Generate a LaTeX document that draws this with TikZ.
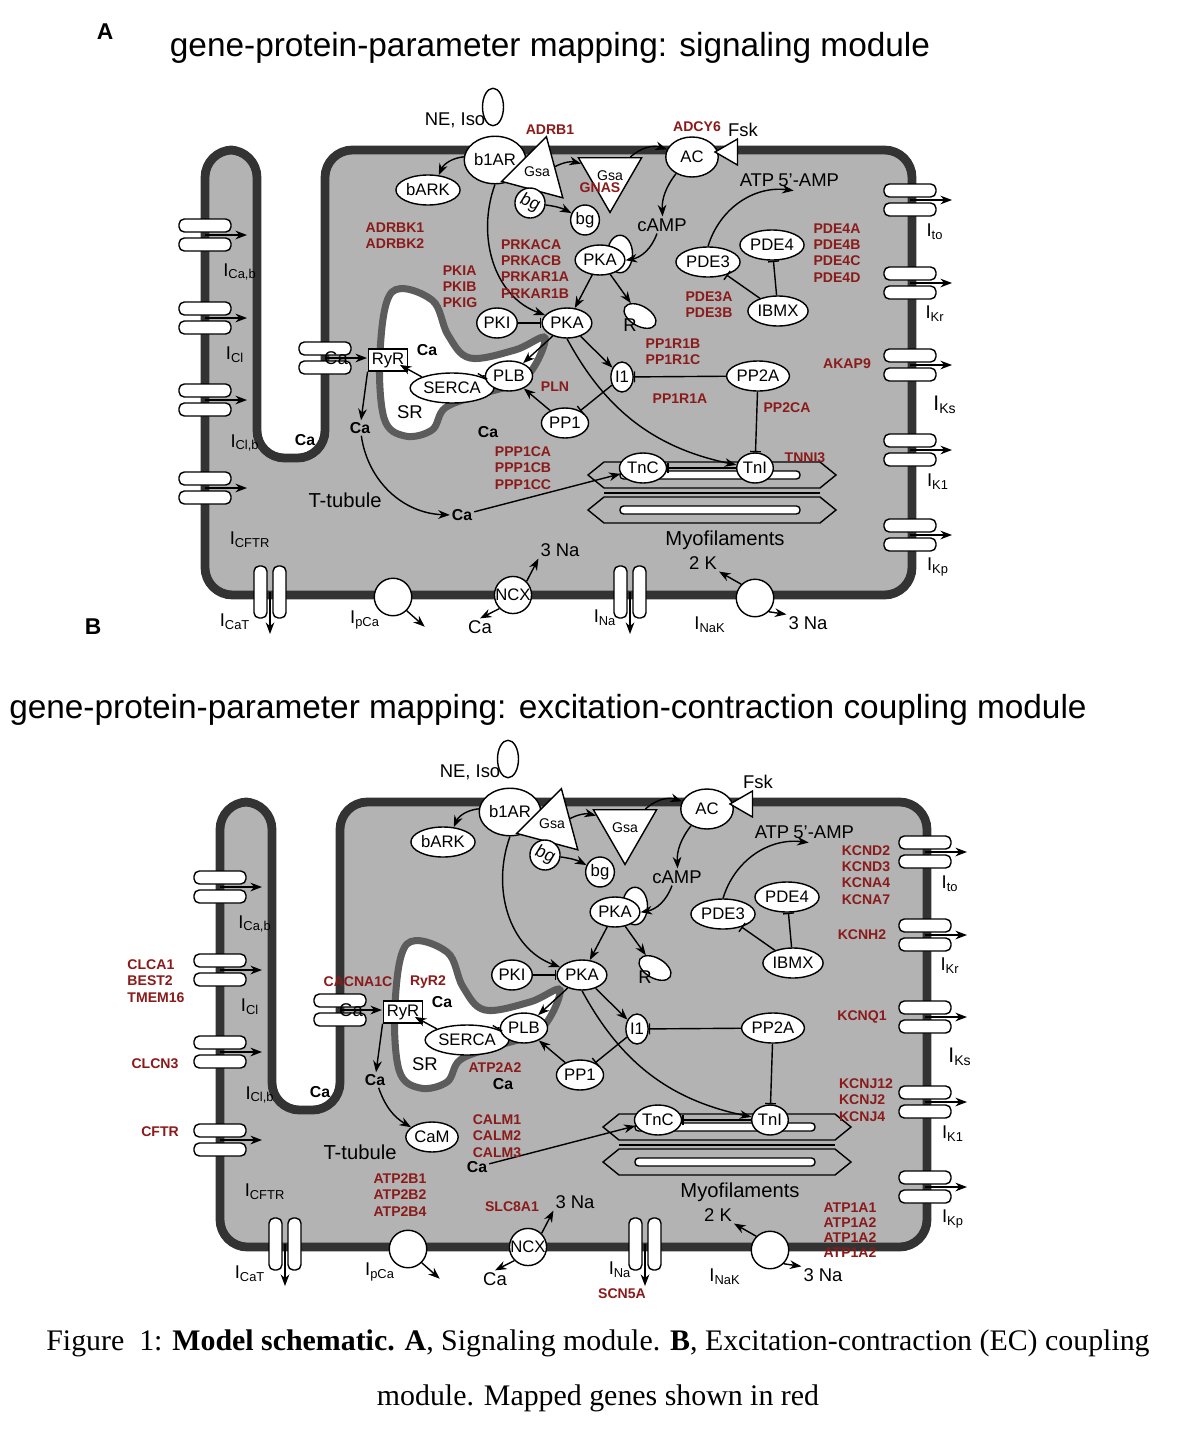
\documentclass[tikz,border=0pt]{standalone}
\usepackage{fontspec}
\setmainfont{Liberation Sans}
\newfontfamily\capfont{Liberation Serif}
\usepackage{tikz}
\usetikzlibrary{shapes,arrows.meta,positioning,calc}
\definecolor{genered}{HTML}{8B1A1A}
\definecolor{cellgray}{HTML}{B3B3B3}
\definecolor{wallgray}{HTML}{333333}

\tikzset{
  prot/.style={ellipse, draw, thick, fill=white, inner sep=0.5pt, minimum height=0.6cm, font=\fontsize{9.5}{11}\selectfont},
  tri/.style={regular polygon, regular polygon sides=3, draw, thick, fill=white, inner sep=0pt, minimum size=0.95cm, font=\fontsize{8}{9}\selectfont},
  lbl/.style={inner sep=1pt, font=\fontsize{10.5}{12}\selectfont},
  cabold/.style={inner sep=1pt, font=\bfseries\fontsize{9}{10}\selectfont},
  gene/.style={inner sep=0pt, align=center, text=genered, font=\bfseries\fontsize{8}{9.2}\selectfont},
  act/.style={-Stealth, thick},
  inh/.style={-Bar, thick},
  chan/.pic={
    \draw[thick, fill=white, rounded corners=3pt] (-26,-16) rectangle (26,-3);
    \draw[thick, fill=white, rounded corners=3pt] (-26,3) rectangle (26,16);
    \draw[-Stealth, thick] (0,0) -- (42,0);
  }
}

% common cell of both modules, #1 = prefix of node names
\newcommand\drawcell[1]{%
  % membrane with T-tubule
  \draw[line width=5pt, draw=wallgray, fill=cellgray, rounded corners=0.55cm]
    (205,595) -- (205,150) -- (257,150) -- (257,458) -- (325,458)
    -- (325,150) -- (912,150) -- (912,595) -- cycle;
  % SR
  \draw[line width=4pt, draw=wallgray!80, fill=white] plot[smooth cycle, tension=0.6]
    coordinates {(392,292) (432,300) (448,335) (470,358) (515,350) (545,338)
      (525,378) (478,395) (445,408) (432,430) (405,436) (384,418) (380,352)};
  % myofilaments
  \foreach \yy in {475,510} {
    \draw[thick, fill=cellgray] (588,\yy) -- (604,\yy-13) -- (820,\yy-13) -- (836,\yy)
      -- (820,\yy+13) -- (604,\yy+13) -- cycle;
    \draw[thick, fill=white, rounded corners=2pt] (620,\yy-4) rectangle (800,\yy+4);
  }
  \draw[thick] (604,493) -- (820,493);
  % proteins
  \node[prot, minimum width=0.42cm, minimum height=0.75cm] (#1lig) at (493,107) {};
  \node[prot, minimum width=0.95cm, minimum height=0.95cm] (#1bar) at (495,160) {b1AR};
  \node[tri, shape border rotate=-15] (#1gsa) at (537,172) {Gsa};
  \node[prot, rotate=-20, font=\itshape\fontsize{10}{11}\selectfont] (#1bg) at (530,203) {bg};
  \node[tri, shape border rotate=180] (#1gsb) at (610,176) {Gsa};
  \node[prot] (#1bgb) at (585,220) {bg};
  \node[prot, minimum width=1.05cm, minimum height=0.8cm] (#1ac) at (692,157) {AC};
  \node[regular polygon, regular polygon sides=3, draw, thick, fill=white,
    shape border rotate=90, minimum size=0.6cm, inner sep=0pt] (#1fsk) at (730,152) {};
  \node[lbl] (#1fsklbl) at (743,130) {Fsk};
  \node[prot] (#1bark) at (428,190) {bARK};
  \node[lbl] (#1atp) at (757,180) {ATP};
  \node[lbl, right=0pt of #1atp] (#1amp) {5'-AMP};
  \node[lbl] (#1camp) at (662,225) {cAMP};
  \node[prot, minimum height=0.75cm, minimum width=0.5cm] (#1rtop) at (620,254) {};
  \node[prot] (#1pka) at (600,260) {PKA};
  \node[prot] (#1pde3) at (708,262) {PDE3};
  \node[prot] (#1pde4) at (772,245) {PDE4};
  \node[prot, minimum width=1.1cm] (#1ibmx) at (778,311) {IBMX};
  \node[prot] (#1pki) at (497,323) {PKI};
  \node[prot] (#1pkb) at (567,323) {PKA};
  \node[prot, rotate=-30, minimum width=0.7cm, minimum height=0.4cm] (#1r) at (640,316) {};
  \node[lbl] (#1rlbl) at (630,325) {R};
  \node[draw, thick, fill=white, inner sep=2pt, font=\fontsize{9.5}{11}\selectfont] (#1ryr) at (388,360) {RyR};
  \node[prot] (#1serca) at (452,388) {SERCA};
  \node[prot] (#1plb) at (509,376) {PLB};
  \node[prot] (#1ione) at (622,377) {I1};
  \node[prot] (#1pptwo) at (758,376) {PP2A};
  \node[prot] (#1ppone) at (565,423) {PP1};
  \node[prot] (#1tnc) at (643,468) {TnC};
  \node[prot] (#1tni) at (755,468) {TnI};
  % text
  \node[lbl] (#1nelbl) at (455,120) {NE, Iso};
  \node[lbl, font=\fontsize{11.5}{13}\selectfont] (#1ttub) at (345,500) {T-tubule};
  \node[lbl, font=\fontsize{11.5}{13}\selectfont] (#1myo) at (725,540) {Myofilaments};
  \node[lbl] (#1sr) at (410,412) {SR};
  \node[cabold] (#1catub) at (305,440) {Ca};
  \node[cabold] (#1caryr) at (427,350) {Ca};
  \node[cabold] (#1caone) at (360,428) {Ca};
  \node[cabold] (#1casr) at (488,432) {Ca};
  \node[cabold] (#1cathree) at (462,515) {Ca};
  % connectors
  \draw[act] (#1bar) to[bend right=30] (#1bark);
  \draw[act] (#1gsa) to[bend left=20] (#1gsb);
  \draw[act] (#1bg) to[bend left=10] (#1bgb);
  \draw[act] (#1gsb) to[bend left=30] (#1ac);
  \draw[act] (#1ac) to[bend right=20] (#1camp);
  \draw[act] (#1camp) to[bend left=30] (#1pka);
  \draw[act] (#1pde3.north) to[bend left=40] ($(#1amp.south)+(-15,2)$);
  \draw[inh] (#1ibmx) -- (#1pde3);
  \draw[inh] (#1ibmx) -- (#1pde4);
  \draw[act] (#1pka) -- (#1pkb);
  \draw[act] (#1pka) -- (#1r);
  \draw[inh] (#1pki) -- (#1pkb);
  \draw[act] (#1pkb) -- (#1plb);
  \draw[act] (#1pkb) -- (#1ione);
  \draw[act] (#1pkb.south) to[bend right=25] (#1tni);
  \draw[act] (#1bar.south) to[out=-110, in=160] (#1pkb);
  \draw[inh] (#1pptwo) -- (#1ione);
  \draw[inh] (#1pptwo) -- (#1tni);
  \draw[inh] (#1ione) -- (#1ppone);
  \draw[act] (#1ppone) -- (#1plb);
  \draw[inh] (#1plb.west) to[bend right=40] (#1serca.north east);
  \draw[act] (#1serca.north west) -- ++(-22,-12);
  \draw[act] (#1ryr.south west) -- (#1caone);
  \draw[inh] (#1tni) -- (#1tnc);
  \draw[act] (#1cathree) -- (#1tnc);
  % sarcolemmal channels
  \foreach \yy in {235,318,400,488} { \pic at (205,\yy) {chan}; }
  \foreach \yy in {200,283,365,450,535} { \pic at (910,\yy) {chan}; }
  \pic at (325,358) {chan};
  \pic[rotate=-90] at (270,592) {chan};
  \pic[rotate=-90] at (630,592) {chan};
  \node[lbl] (#1cceq) at (336,358) {Ca};
  \node[lbl] (#1icab) at (240,272) {I\textsubscript{Ca,b}};
  \node[lbl] (#1icl) at (235,355) {I\textsubscript{Cl}};
  \node[lbl] (#1iclb) at (245,443) {I\textsubscript{Cl,b}};
  \node[lbl] (#1icftr) at (250,540) {I\textsubscript{CFTR}};
  \node[lbl] (#1ito) at (935,232) {I\textsubscript{to}};
  \node[lbl] (#1ikr) at (935,314) {I\textsubscript{Kr}};
  \node[lbl, font=\fontsize{12}{13}\selectfont] (#1iks) at (945,405) {I\textsubscript{Ks}};
  \node[lbl] (#1ikone) at (938,482) {I\textsubscript{K1}};
  \node[lbl] (#1ikp) at (938,567) {I\textsubscript{Kp}};
  % pumps and exchanger
  \node[circle, draw, thick, fill=white, minimum size=0.75cm] (#1ipca) at (393,597) {};
  \node[circle, draw, thick, fill=white, minimum size=0.7cm, inner sep=0pt, font=\fontsize{9.5}{11}\selectfont] (#1ncx) at (513,595) {NCX};
  \node[circle, draw, thick, fill=white, minimum size=0.75cm] (#1inak) at (755,598) {};
  \node[lbl] (#1na) at (560,550) {3 Na};
  \node[lbl] (#1ca) at (480,627) {Ca};
  \node[lbl] (#1kk) at (703,563) {2 K};
  \node[lbl] (#1nab) at (808,623) {3 Na};
  \draw[act] (#1ipca.south east) -- ++(18,16);
  \draw[act] (#1ncx.north east) -- (#1na.south west);
  \draw[act] (#1ncx.south west) -- (#1ca.north);
  \draw[act] (#1inak.north west) -- (#1kk.south east);
  \draw[act] (#1inak.south east) -- (#1nab.north west);
  \node[lbl] (#1icat) at (235,622) {I\textsubscript{CaT}};
  \node[lbl] (#1ipcalbl) at (365,620) {I\textsubscript{pCa}};
  \node[lbl] (#1inalbl) at (605,618) {I\textsubscript{Na}};
  \node[lbl] (#1inaklbl) at (710,625) {I\textsubscript{NaK}};
}

\begin{document}
\begin{tikzpicture}[x=0.02cm, y=-0.02cm]
  \useasboundingbox (0,0) rectangle (1180,1430);
  \fill[white] (0,0) rectangle (1180,1430);

  % panel A
  \node[font=\bfseries\fontsize{13}{14}\selectfont] (panela) at (105,32) {A};
  \node[font=\fontsize{19}{21}\selectfont] (titlea) at (550,48) {gene-protein-parameter mapping: signaling module};
  \drawcell{a}
  \draw[act] (acaone) to[bend right=40] (acathree);
  \node[gene] (gadrb) at (550,130) {ADRB1};
  \node[gene] (gadcy) at (697,127) {ADCY6};
  \node[gene] (ggnas) at (600,188) {GNAS};
  \node[gene] (gadrbk) at (395,236) {ADRBK1\\ADRBK2};
  \node[gene, align=left] (gprka) at (535,269) {PRKACA\\PRKACB\\PRKAR1A\\PRKAR1B};
  \node[gene, align=left] (gpki) at (460,287) {PKIA\\PKIB\\PKIG};
  \node[gene, align=left] (gpdefour) at (837,253) {PDE4A\\PDE4B\\PDE4C\\PDE4D};
  \node[gene] (gpdethree) at (709,305) {PDE3A\\PDE3B};
  \node[gene, align=left] (gppb) at (673,352) {PP1R1B\\PP1R1C};
  \node[gene] (gppa) at (680,399) {PP1R1A};
  \node[gene] (gpln) at (555,387) {PLN};
  \node[gene] (gpptwo) at (787,408) {PP2CA};
  \node[gene] (gakap) at (847,364) {AKAP9};
  \node[gene] (gtnni) at (805,458) {TNNI3};
  \node[gene] (gppp) at (523,468) {PPP1CA\\PPP1CB\\PPP1CC};

  % panel B
  \node[font=\bfseries\fontsize{13}{14}\selectfont] (panelb) at (93,627) {B};
  \node[font=\fontsize{19}{21}\selectfont] (titleb) at (548,710) {gene-protein-parameter mapping: excitation-contraction coupling module};
  \begin{scope}[shift={(15,652)}]
    \drawcell{b}
    \node[prot] (bcam) at (417,485) {CaM};
    \draw[act] (bcaone) to[bend right=20] (bcam);
  \end{scope}
  \node[gene, align=left] (gkcnd) at (866,875) {KCND2\\KCND3\\KCNA4\\KCNA7};
  \node[gene] (gkcnh) at (862,935) {KCNH2};
  \node[gene] (gkcnq) at (862,1017) {KCNQ1};
  \node[gene, align=left] (gkcnj) at (866,1100) {KCNJ12\\KCNJ2\\KCNJ4};
  \node[gene, align=left] (gclca) at (156,981) {CLCA1\\BEST2\\TMEM16};
  \node[gene] (gclcn) at (155,1064) {CLCN3};
  \node[gene] (gcftr) at (160,1132) {CFTR};
  \node[gene] (gcacna) at (358,982) {CACNA1C};
  \node[gene] (gryr) at (428,982) {RyR2};
  \node[gene] (gatpa) at (495,1068) {ATP2A2};
  \node[gene, align=left] (gcalm) at (497,1136) {CALM1\\CALM2\\CALM3};
  \node[gene] (gatpb) at (400,1195) {ATP2B1\\ATP2B2\\ATP2B4};
  \node[gene] (gslc) at (512,1207) {SLC8A1};
  \node[gene] (gscn) at (622,1294) {SCN5A};
  \node[gene, font=\bfseries\fontsize{8}{8.6}\selectfont] (gatp) at (850,1230) {ATP1A1\\ATP1A2\\ATP1A2\\ATP1A2};

  % caption
  \node[font=\capfont\fontsize{17}{19}\selectfont] (capone) at (598,1343)
    {Figure\ \ 1: \textbf{Model schematic. A}, Signaling module. \textbf{B}, Excitation-contraction (EC) coupling};
  \node[font=\capfont\fontsize{17}{19}\selectfont] (captwo) at (598,1398)
    {module. Mapped genes shown in red};
\end{tikzpicture}
\end{document}
